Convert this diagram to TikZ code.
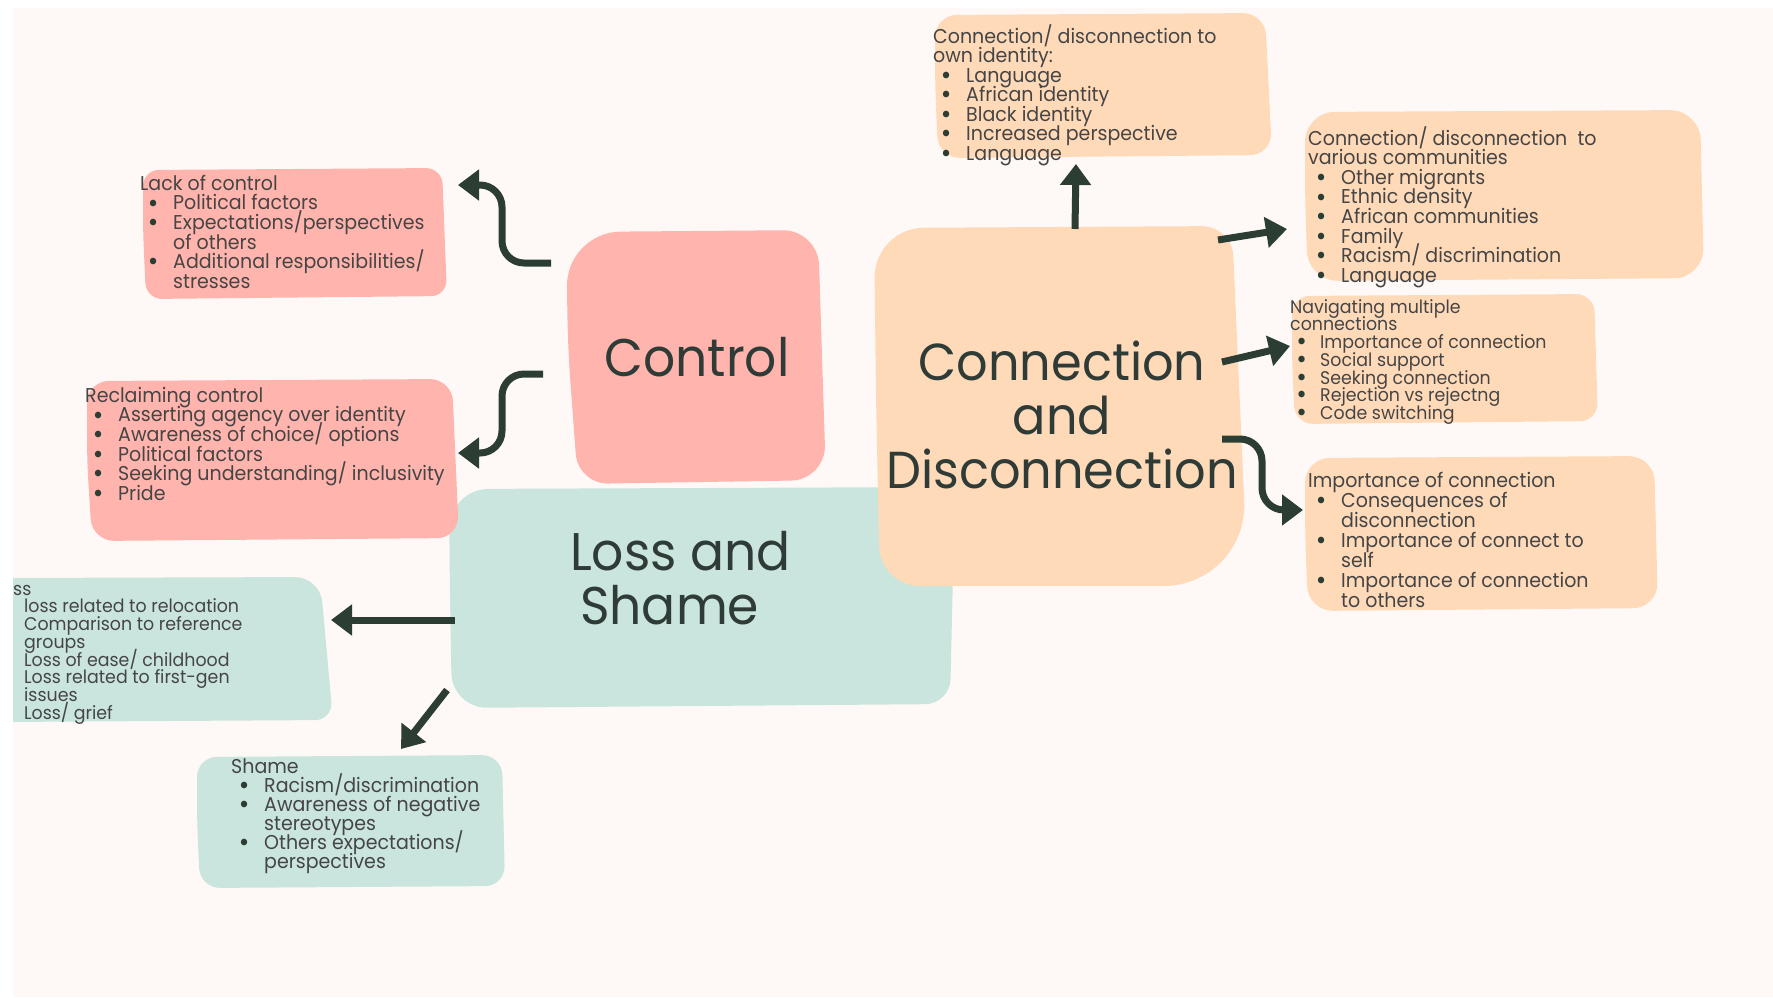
\documentclass[tikz,border=0pt]{standalone}
\usepackage{fontspec}
\setmainfont{Poppins}[FakeStretch=0.95]
\usetikzlibrary{arrows.meta}
\definecolor{bgc}{HTML}{FEF9F6}
\definecolor{pinkc}{HTML}{FFB5AD}
\definecolor{peachc}{HTML}{FFDAB9}
\definecolor{tealc}{HTML}{CAE5DE}
\definecolor{arrowc}{HTML}{2C3E33}
\definecolor{txtc}{HTML}{454545}
\definecolor{bigc}{HTML}{2F3B37}
\newcommand\fstrut{\rule{0pt}{17pt}}
\newcommand\sfstrut{\rule{0pt}{16pt}}
\newcommand\bdot{\raisebox{-2.2pt}{\fontsize{27}{0}\selectfont\textcolor{arrowc}{\textbullet}}}
\newcommand\bitem{\makebox[33pt][l]{\hspace{13pt}\makebox[0pt][c]{\bdot}}}
\newcommand\citem{\makebox[33pt]{}}
\newcommand\sbitem{\makebox[30pt][l]{\hspace{11.5pt}\makebox[0pt][c]{\bdot}}}
\newcommand\scitem{\makebox[30pt]{}}
\tikzset{
  subtext/.style={text=txtc, inner sep=0pt, anchor=north west, align=left,
    font=\fontsize{20}{19.6}\selectfont},
  smalltext/.style={subtext, font=\fontsize{18.3}{17.7}\selectfont},
  bigtext/.style={text=bigc, inner sep=0pt, font=\fontsize{53}{54}\selectfont},
  conn/.style={draw=arrowc, line width=7pt, -{Triangle[length=21pt,width=30pt]}, rounded corners=22pt},
}
\begin{document}
\setlength{\lineskiplimit}{-100pt}
\begin{tikzpicture}[x=1pt,y=-1pt]
\useasboundingbox (0,0) rectangle (1773,997);
\fill[white] (0,0) rectangle (1773,997);
\fill[bgc] (13,8) rectangle (1773,997);
\begin{scope}
\clip (13,8) rectangle (1773,997);
% main blobs
\fill[tealc] (450,600) [rounded corners=40pt] -- (449,489) [rounded corners=30pt] -- (955,487) [rounded corners=25pt] -- (950,704) [rounded corners=35pt] -- (452,708) -- cycle;
\fill[pinkc] (568,350) [rounded corners=55pt] -- (566,232) [rounded corners=35pt] -- (818,230) [rounded corners=35pt] -- (826,480) [rounded corners=30pt] -- (578,484) -- cycle;
\fill[peachc] (876,400) [rounded corners=50pt] -- (874,228) [rounded corners=30pt] -- (1232,226) [rounded corners=85pt] -- (1248,586) [rounded corners=40pt] -- (880,586) -- cycle;
% sub boxes
\fill[pinkc] (143,230) [rounded corners=16pt] -- (143,170) -- (442,168) -- (447,296) -- (146,299) -- cycle;
\fill[pinkc] (87,460) [rounded corners=22pt] -- (87,381) -- (452,379) -- (459,538) -- (92,541) -- cycle;
\fill[tealc] (0,650) -- (0,578) [rounded corners=25pt] -- (320,577) [rounded corners=18pt] -- (333,720) [sharp corners] -- (0,722) -- cycle;
\fill[tealc] (197,820) [rounded corners=20pt] -- (197,757) -- (502,755) -- (505,886) -- (200,888) -- cycle;
\fill[peachc] (935,80) [rounded corners=22pt] -- (935,15) -- (1265,13) -- (1272,155) -- (938,158) -- cycle;
\fill[peachc] (1305,200) [rounded corners=30pt] -- (1305,112) -- (1700,110) -- (1704,278) -- (1308,281) -- cycle;
\fill[peachc] (1292,360) [rounded corners=18pt] -- (1292,296) -- (1594,294) -- (1598,421) -- (1295,424) -- cycle;
\fill[peachc] (1305,530) [rounded corners=25pt] -- (1305,458) -- (1654,456) -- (1658,608) -- (1308,611) -- cycle;
% main texts
\node[bigtext, anchor=base] (control) at (697,376) {Control};
\node[bigtext, anchor=north, align=center, font=\fontsize{52}{54}\selectfont] (connect) at (1062,335) {\rule{0pt}{45pt}Connection\\and\\Disconnection};
\node[bigtext, anchor=north west, align=left] (loss) at (570,525) {\rule{0pt}{45pt}Loss and\\\hspace*{10pt}Shame};
% sub texts
\node[subtext] (lack) at (140,173) {\fstrut Lack of control\\
\bitem Political factors\\
\bitem Expectations/perspectives\\
\citem of others\\
\bitem Additional responsibilities/\\
\citem stresses};
\node[subtext] (reclaim) at (85,385) {\fstrut Reclaiming control\\
\bitem Asserting agency over identity\\
\bitem Awareness of choice/ options\\
\bitem Political factors\\
\bitem Seeking understanding/ inclusivity\\
\bitem Pride};
\node[smalltext] (losslist) at (13,579) {\sfstrut ss\\
\makebox[11pt]{}loss related to relocation\\
\makebox[11pt]{}Comparison to reference\\
\makebox[11pt]{}groups\\
\makebox[11pt]{}Loss of ease/ childhood\\
\makebox[11pt]{}Loss related to first-gen\\
\makebox[11pt]{}issues\\
\makebox[11pt]{}Loss/ grief};
\node[subtext, font=\fontsize{20}{19}\selectfont] (shame) at (231,756) {\fstrut Shame\\
\bitem Racism/discrimination\\
\bitem Awareness of negative\\
\citem stereotypes\\
\bitem Others expectations/\\
\citem perspectives};
\node[subtext, font=\fontsize{20}{19.5}\selectfont] (own) at (933,24) {\fstrut Connection/ disconnection to\\
own identity:\\
\bitem Language\\
\bitem African identity\\
\bitem Black identity\\
\bitem Increased perspective\\
\bitem Language};
\node[subtext] (comm) at (1308,126) {\fstrut Connection/ disconnection~ to\\
various communities\\
\bitem Other migrants\\
\bitem Ethnic density\\
\bitem African communities\\
\bitem Family\\
\bitem Racism/ discrimination\\
\bitem Language};
\node[smalltext] (nav) at (1290,297) {\sfstrut Navigating multiple\\
connections\\
\sbitem Importance of connection\\
\sbitem Social support\\
\sbitem Seeking connection\\
\sbitem Rejection vs rejectng\\
\sbitem Code switching};
\node[subtext, font=\fontsize{20}{20}\selectfont] (imp) at (1308,470) {\fstrut Importance of connection\\
\bitem Consequences of\\
\citem disconnection\\
\bitem Importance of connect to\\
\citem self\\
\bitem Importance of connection\\
\citem to others};
\end{scope}
% connector end points
\coordinate (a1s) at (551,263); \coordinate (a1e) at (458,185);
\coordinate (a2s) at (543,374); \coordinate (a2e) at (458,453);
\coordinate (a3s) at (455,620); \coordinate (a3e) at (331,620);
\coordinate (a4s) at (447,690); \coordinate (a4e) at (401,749);
\coordinate (a5s) at (1075,229); \coordinate (a5e) at (1076,164);
\coordinate (a6s) at (1218,240); \coordinate (a6e) at (1287,229);
\coordinate (a7s) at (1222,362); \coordinate (a7e) at (1290,346);
\coordinate (a8s) at (1222,439); \coordinate (a8e) at (1303,510);
\draw[conn] (a1s) -- (502,263) -- (502,185) -- (a1e);
\draw[conn] (a2s) -- (502,374) -- (502,453) -- (a2e);
\draw[conn] (a3s) -- (a3e);
\draw[conn] (a4s) -- (a4e);
\draw[conn] (a5s) -- (a5e);
\draw[conn] (a6s) -- (a6e);
\draw[conn] (a7s) -- (a7e);
\draw[conn] (a8s) -- (1262,439) -- (1262,510) -- (a8e);
\end{tikzpicture}
\end{document}
